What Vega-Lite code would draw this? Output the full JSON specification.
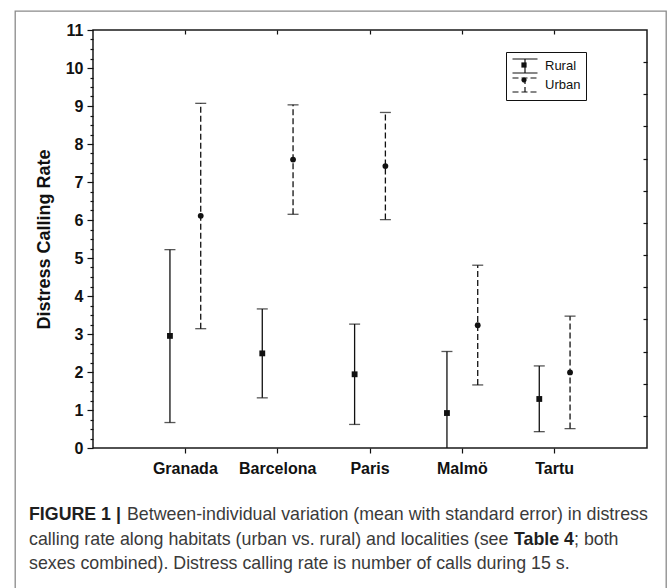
{
  "$schema": "https://vega.github.io/schema/vega-lite/v6.json",
  "padding": {"left": 14, "top": 10, "right": 0, "bottom": 0},
  "spacing": -559,
  "bounds": "flush",
  "align": "none",
  "config": {
    "font": "Liberation Sans",
    "axis": {
      "grid": false,
      "domain": false,
      "tickColor": "#111111",
      "tickWidth": 1.2,
      "labelColor": "#111111",
      "labelFont": "Liberation Sans",
      "labelFontWeight": "bold",
      "labelFontSize": 16,
      "titleFont": "Liberation Sans",
      "titleFontWeight": "bold",
      "titleColor": "#111111",
      "titleFontSize": 18
    }
  },
  "vconcat": [
    {
      "width": 651,
      "height": 578,
      "view": {"stroke": "#8a8a8a", "strokeWidth": 1.3, "fill": null},
      "data": {
        "values": [
          {"line": 1, "part": "a", "text": "FIGURE 1 |"},
          {"line": 1, "part": "b", "text": "Between-individual variation (mean with standard error) in distress"},
          {"line": 2, "part": "a", "text": "calling rate along habitats (urban vs. rural) and localities (see"},
          {"line": 2, "part": "b", "text": "Table 4"},
          {"line": 2, "part": "c", "text": "; both"},
          {"line": 3, "part": "a", "text": "sexes combined). Distress calling rate is number of calls during 15 s."}
        ]
      },
      "encoding": {
        "y": {"field": "line", "type": "ordinal", "axis": null, "scale": {"type": "point", "range": [504, 553], "padding": 0}},
        "text": {"field": "text"}
      },
      "layer": [
        {
          "transform": [{"filter": "datum.line == 1 && datum.part == 'a'"}],
          "mark": {"type": "text", "x": 14, "align": "left", "baseline": "middle", "font": "Liberation Sans", "fontSize": 17.8, "fontWeight": "bold", "color": "#1f1f1f"}
        },
        {
          "transform": [{"filter": "datum.line == 1 && datum.part == 'b'"}],
          "mark": {"type": "text", "x": 112, "align": "left", "baseline": "middle", "font": "Liberation Sans", "fontSize": 17.8, "color": "#3a3a3a"}
        },
        {
          "transform": [{"filter": "datum.part == 'a' && datum.line != 1"}],
          "mark": {"type": "text", "x": 14, "align": "left", "baseline": "middle", "font": "Liberation Sans", "fontSize": 17.8, "color": "#3a3a3a"}
        },
        {
          "transform": [{"filter": "datum.line == 2 && datum.part == 'b'"}],
          "mark": {"type": "text", "x": 499, "align": "left", "baseline": "middle", "font": "Liberation Sans", "fontSize": 17.8, "fontWeight": "bold", "color": "#1f1f1f"}
        },
        {
          "transform": [{"filter": "datum.line == 2 && datum.part == 'c'"}],
          "mark": {"type": "text", "x": 559, "align": "left", "baseline": "middle", "font": "Liberation Sans", "fontSize": 17.8, "color": "#3a3a3a"}
        }
      ]
    },
    {
      "spacing": 0,
      "bounds": "flush",
      "align": "none",
      "hconcat": [
        {
          "width": 78,
          "height": 10,
          "view": {"stroke": null},
          "data": {"values": []},
          "mark": "point"
        },
        {
          "width": 554,
          "height": 418,
          "view": {"stroke": "#1a1a1a", "strokeWidth": 1.5},
          "data": {
            "values": [
              {"city": "Granada", "habitat": "Rural", "mean": 2.95, "lo": 0.67, "hi": 5.22},
              {"city": "Granada", "habitat": "Urban", "mean": 6.11, "lo": 3.14, "hi": 9.07},
              {"city": "Barcelona", "habitat": "Rural", "mean": 2.49, "lo": 1.32, "hi": 3.66},
              {"city": "Barcelona", "habitat": "Urban", "mean": 7.59, "lo": 6.15, "hi": 9.03},
              {"city": "Paris", "habitat": "Rural", "mean": 1.94, "lo": 0.62, "hi": 3.26},
              {"city": "Paris", "habitat": "Urban", "mean": 7.42, "lo": 6.01, "hi": 8.83},
              {"city": "Malmö", "habitat": "Rural", "mean": 0.92, "lo": -0.7, "hi": 2.54},
              {"city": "Malmö", "habitat": "Urban", "mean": 3.23, "lo": 1.66, "hi": 4.81},
              {"city": "Tartu", "habitat": "Rural", "mean": 1.29, "lo": 0.43, "hi": 2.16},
              {"city": "Tartu", "habitat": "Urban", "mean": 1.99, "lo": 0.51, "hi": 3.47}
            ]
          },
          "encoding": {
            "xOffset": {"field": "habitat", "type": "nominal", "scale": {"type": "point", "padding": 2.8}}
          },
          "layer": [
            {
              "mark": {"type": "rule", "clip": true, "strokeWidth": 1.3, "color": "#111111"},
              "encoding": {
                "x": {"field": "city", "type": "nominal", "sort": ["Granada", "Barcelona", "Paris", "Malmö", "Tartu"], "scale": {"type": "band", "paddingInner": 0, "paddingOuter": 0.5},
                      "axis": {"orient": "bottom", "title": null, "tickSize": 5, "labelPadding": 7, "labelAngle": 0}},
                "y": {"field": "lo", "type": "quantitative", "scale": {"domain": [0, 11], "nice": false, "zero": false},
                      "axis": {"orient": "left", "values": [0, 1, 2, 3, 4, 5, 6, 7, 8, 9, 10, 11], "tickSize": 6, "labelPadding": 4, "title": "Distress Calling Rate", "titlePadding": 12}},
                "y2": {"field": "hi"},
                "strokeDash": {"field": "habitat", "type": "nominal", "scale": {"domain": ["Rural", "Urban"], "range": [[1, 0], [6, 3]]},
                               "legend": {"title": null, "orient": "none", "legendX": 413, "legendY": 22, "strokeColor": "#111111", "padding": 5, "labelFont": "Liberation Sans", "labelFontSize": 13, "labelFontWeight": "normal", "labelColor": "#111111",
                                          "symbolType": "M-0.9375,-0.875H2.1875M0.625,-0.875V0.875M-0.9375,0.875H2.1875", "symbolSize": 256, "symbolStrokeWidth": 1.2, "symbolStrokeColor": "#111111", "symbolFillColor": "transparent", "symbolOpacity": 1, "rowPadding": -2, "labelOffset": 16}}
              }
            },
            {
              "mark": {"type": "tick", "clip": true, "size": 11, "thickness": 1.3, "color": "#111111"},
              "encoding": {
                "x": {"field": "city", "type": "nominal", "sort": ["Granada", "Barcelona", "Paris", "Malmö", "Tartu"], "scale": {"type": "band", "paddingInner": 0, "paddingOuter": 0.5},
                      "axis": {"orient": "top", "title": null, "labels": false, "tickSize": -4}},
                "y": {"field": "lo", "type": "quantitative", "scale": {"domain": [0, 11], "nice": false, "zero": false},
                      "axis": {"orient": "left", "values": [0.25, 0.5, 0.75, 1.25, 1.5, 1.75, 2.25, 2.5, 2.75, 3.25, 3.5, 3.75, 4.25, 4.5, 4.75, 5.25, 5.5, 5.75, 6.25, 6.5, 6.75, 7.25, 7.5, 7.75, 8.25, 8.5, 8.75, 9.25, 9.5, 9.75, 10.25, 10.5, 10.75], "tickSize": 3, "labels": false, "title": null}}
              }
            },
            {
              "mark": {"type": "tick", "clip": true, "size": 11, "thickness": 1.3, "color": "#111111"},
              "encoding": {
                "x": {"field": "city", "type": "nominal", "sort": ["Granada", "Barcelona", "Paris", "Malmö", "Tartu"], "scale": {"type": "band", "paddingInner": 0, "paddingOuter": 0.5}, "axis": null},
                "y": {"field": "hi", "type": "quantitative", "scale": {"domain": [0, 11], "nice": false, "zero": false},
                      "axis": {"orient": "right", "values": [0.846, 1.692, 2.538, 3.385, 4.231, 5.077, 5.923, 6.769, 7.615, 8.462, 9.308, 10.154], "tickSize": -4, "labels": false, "title": null}}
              }
            },
            {
              "mark": {"type": "point", "filled": true, "size": 34, "color": "#111111", "opacity": 1},
              "encoding": {
                "x": {"field": "city", "type": "nominal", "sort": ["Granada", "Barcelona", "Paris", "Malmö", "Tartu"], "scale": {"type": "band", "paddingInner": 0, "paddingOuter": 0.5}, "axis": null},
                "y": {"field": "mean", "type": "quantitative", "scale": {"domain": [0, 11], "nice": false, "zero": false}, "axis": null},
                "shape": {"field": "habitat", "type": "nominal", "scale": {"domain": ["Rural", "Urban"], "range": ["square", "circle"]}, "legend": null}
              }
            },
            {
              "mark": {"type": "point", "filled": true, "color": "#111111", "opacity": 0},
              "encoding": {
                "x": {"field": "city", "type": "nominal", "sort": ["Granada", "Barcelona", "Paris", "Malmö", "Tartu"], "scale": {"type": "band", "paddingInner": 0, "paddingOuter": 0.5}, "axis": null},
                "y": {"field": "mean", "type": "quantitative", "scale": {"domain": [0, 11], "nice": false, "zero": false}, "axis": null},
                "shape": {"field": "habitat", "type": "nominal",
                          "scale": {"domain": ["Rural", "Urban"], "range": ["M0.3,-0.325H0.95V0.325H0.3Z", "M0.3,0A0.325,0.325 0 1,0 0.95,0A0.325,0.325 0 1,0 0.3,0Z"]},
                          "legend": {"title": null, "orient": "none", "legendX": 413, "legendY": 22, "strokeColor": null, "padding": 5, "labelFont": "Liberation Sans", "labelFontSize": 13, "labelExpr": "''",
                                     "symbolSize": 256, "symbolStrokeWidth": 0, "symbolFillColor": "#111111", "symbolOpacity": 1, "rowPadding": -2, "labelOffset": 16}}
              }
            }
          ],
          "resolve": {"scale": {"shape": "independent", "strokeDash": "independent"}, "axis": {"x": "independent", "y": "independent"}}
        }
      ]
    }
  ]
}
